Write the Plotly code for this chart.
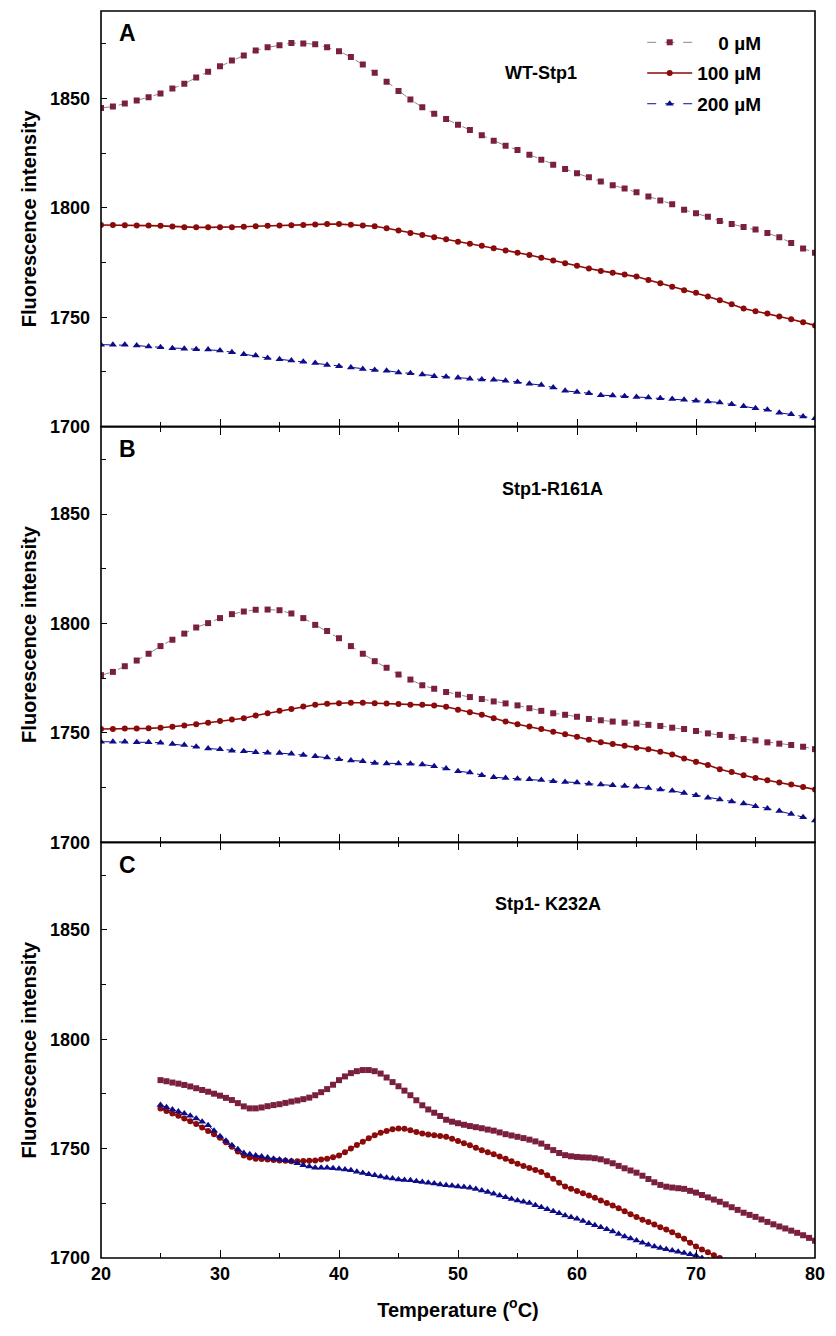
import plotly.graph_objects as go
from plotly.subplots import make_subplots

# ---------------- data ----------------
temp_ab = list(range(20, 81))

a_0uM = [1845.7, 1846.3, 1847.7, 1849.1, 1850.6, 1852.3, 1854.6, 1856.7, 1859.6, 1862.2,
         1864.7, 1867.4, 1869.7, 1872.0, 1873.4, 1874.3, 1875.4, 1875.2, 1874.8, 1873.4,
         1871.6, 1869.0, 1865.6, 1861.8, 1857.7, 1853.4, 1849.5, 1846.0, 1843.0, 1840.6,
         1838.0, 1835.6, 1833.2, 1830.7, 1828.4, 1826.5, 1824.3, 1822.0, 1819.7, 1817.8,
         1815.8, 1814.0, 1812.1, 1810.3, 1808.9, 1807.1, 1805.2, 1803.4, 1801.7, 1799.1,
         1797.6, 1795.9, 1794.0, 1792.6, 1791.3, 1790.1, 1788.5, 1786.6, 1783.9, 1781.4,
         1779.5]
a_100uM = [1792.2, 1792.2, 1792.1, 1792.0, 1791.9, 1791.8, 1791.5, 1791.2, 1791.1, 1791.1,
           1791.1, 1791.2, 1791.4, 1791.6, 1791.8, 1792.0, 1792.1, 1792.2, 1792.4, 1792.6,
           1792.6, 1792.3, 1792.0, 1791.6, 1790.7, 1789.7, 1788.5, 1787.6, 1786.6, 1785.7,
           1784.5, 1783.6, 1782.7, 1781.6, 1780.5, 1779.5, 1778.5, 1777.2, 1775.9, 1774.7,
           1773.5, 1772.3, 1771.2, 1770.4, 1769.6, 1768.6, 1767.0, 1765.5, 1764.0, 1762.4,
           1761.2, 1759.5, 1757.8, 1755.9, 1754.0, 1752.8, 1751.7, 1750.4, 1749.1, 1747.7,
           1746.3]
a_200uM = [1737.5, 1737.4, 1737.4, 1737.1, 1736.6, 1736.3, 1735.9, 1735.6, 1735.4, 1735.3,
           1734.8, 1734.0, 1733.1, 1732.5, 1731.4, 1730.8, 1730.2, 1729.7, 1729.1, 1728.2,
           1727.6, 1727.0, 1726.4, 1725.9, 1725.6, 1724.8, 1724.4, 1723.8, 1723.1, 1722.8,
           1722.4, 1721.9, 1721.6, 1721.5, 1721.0, 1720.4, 1719.6, 1719.0, 1717.9, 1716.4,
           1715.8, 1715.3, 1714.4, 1714.3, 1713.9, 1713.6, 1713.3, 1713.0, 1712.7, 1712.3,
           1711.8, 1711.5, 1711.0, 1710.3, 1709.3, 1708.4, 1707.7, 1706.4, 1705.7, 1704.7,
           1703.8]

b_0uM = [1776.4, 1777.9, 1780.5, 1783.1, 1786.2, 1789.7, 1792.6, 1795.4, 1798.2, 1800.2,
         1802.5, 1804.3, 1805.5, 1806.3, 1806.4, 1806.1, 1804.6, 1802.5, 1799.4, 1796.6,
         1793.3, 1789.7, 1786.2, 1782.8, 1779.8, 1776.7, 1774.4, 1771.8, 1770.2, 1768.7,
         1767.5, 1766.4, 1765.5, 1764.4, 1763.5, 1762.6, 1761.3, 1760.1, 1759.0, 1758.3,
         1757.4, 1756.4, 1755.8, 1755.2, 1754.7, 1754.3, 1753.7, 1753.2, 1752.4, 1751.8,
         1750.9, 1749.8, 1749.1, 1748.2, 1747.2, 1746.6, 1745.7, 1745.1, 1744.5, 1743.7,
         1742.6]
b_100uM = [1751.8, 1751.8, 1752.0, 1752.0, 1752.1, 1752.4, 1752.8, 1753.4, 1754.0, 1754.7,
           1755.5, 1756.1, 1756.7, 1758.0, 1759.0, 1760.1, 1761.0, 1762.1, 1762.9, 1763.3,
           1763.6, 1763.8, 1763.8, 1763.6, 1763.5, 1763.2, 1762.9, 1762.9, 1762.6, 1762.0,
           1760.6, 1759.5, 1758.3, 1756.7, 1755.2, 1754.0, 1752.9, 1751.8, 1750.6, 1749.4,
           1748.3, 1746.9, 1745.7, 1744.9, 1744.2, 1743.2, 1742.6, 1741.4, 1740.2, 1738.3,
           1736.8, 1735.3, 1733.4, 1732.2, 1730.7, 1729.4, 1728.4, 1727.3, 1726.4, 1725.3,
           1724.2]
b_200uM = [1746.0, 1746.0, 1746.0, 1745.8, 1745.7, 1745.5, 1744.9, 1744.5, 1743.7, 1742.9,
           1742.5, 1741.9, 1741.6, 1741.2, 1740.9, 1740.8, 1740.5, 1739.9, 1739.3, 1738.8,
           1738.0, 1737.4, 1737.1, 1736.3, 1736.0, 1736.0, 1735.9, 1735.6, 1734.8, 1733.7,
           1732.5, 1731.9, 1730.7, 1729.7, 1729.4, 1729.1, 1728.8, 1728.5, 1727.9, 1727.6,
           1727.3, 1726.8, 1726.4, 1726.1, 1725.8, 1725.4, 1724.8, 1724.2, 1723.6, 1722.5,
           1721.5, 1720.4, 1719.6, 1718.7, 1717.8, 1716.5, 1715.5, 1714.3, 1713.0, 1711.5,
           1710.0]

# panel C: readings every 0.5 degC starting at 25 degC
c_start, c_step = 25.0, 0.5
c_0uM = [1781.3, 1780.8, 1780.2, 1779.7, 1779.1, 1778.4, 1777.6, 1776.8, 1776.0, 1775.1,
         1774.2, 1773.2, 1772.2, 1770.8, 1769.3, 1768.4, 1768.4, 1768.8, 1769.4, 1769.9,
         1770.3, 1770.9, 1771.5, 1772.0, 1772.6, 1773.3, 1774.4, 1775.8, 1777.2, 1779.2,
         1781.3, 1783.0, 1784.5, 1785.4, 1785.9, 1785.9, 1785.4, 1784.3, 1782.5, 1780.4,
         1778.5, 1776.5, 1774.4, 1772.1, 1769.8, 1767.9, 1766.4, 1764.9, 1763.2, 1762.3,
         1761.6, 1760.9, 1760.3, 1759.8, 1759.3, 1758.7, 1758.2, 1757.4, 1756.6, 1756.0,
         1755.4, 1754.8, 1754.1, 1753.3, 1752.3, 1750.8, 1749.3, 1748.0, 1747.0, 1746.5,
         1746.2, 1746.0, 1745.9, 1745.6, 1745.1, 1744.2, 1743.3, 1742.1, 1741.0, 1740.0,
         1739.0, 1737.6, 1736.1, 1734.6, 1733.4, 1732.6, 1732.2, 1731.9, 1731.6, 1730.7,
         1729.9, 1728.8, 1727.7, 1726.7, 1725.7, 1724.5, 1723.2, 1722.0, 1720.7, 1719.7,
         1718.8, 1717.6, 1716.5, 1715.4, 1714.4, 1713.5, 1712.5, 1711.5, 1710.4, 1709.2,
         1707.9]
c_100uM = [1768.3, 1767.2, 1766.1, 1765.0, 1763.8, 1762.5, 1761.2, 1759.7, 1758.1, 1756.6,
           1755.0, 1752.9, 1750.8, 1748.7, 1746.9, 1745.9, 1745.4, 1745.2, 1745.0, 1744.8,
           1744.6, 1744.4, 1744.2, 1744.2, 1744.3, 1744.4, 1744.6, 1745.0, 1745.4, 1746.0,
           1746.9, 1748.3, 1750.0, 1751.6, 1753.1, 1754.7, 1756.1, 1757.2, 1758.1, 1758.8,
           1759.2, 1759.1, 1758.4, 1757.6, 1756.9, 1756.5, 1756.1, 1755.8, 1755.4, 1754.5,
           1753.5, 1752.5, 1751.5, 1750.4, 1749.2, 1748.3, 1747.4, 1746.4, 1745.4, 1744.2,
           1743.1, 1742.1, 1741.1, 1740.2, 1739.3, 1737.8, 1736.2, 1734.4, 1732.7, 1731.6,
           1730.6, 1729.6, 1728.6, 1727.5, 1726.3, 1725.1, 1724.0, 1722.7, 1721.4, 1720.0,
           1718.7, 1717.5, 1716.4, 1715.3, 1714.1, 1713.0, 1711.8, 1710.3, 1708.8, 1707.0,
           1705.2, 1703.9, 1702.6, 1701.3, 1700.0, 1698.7, 1697.4]
c_200uM = [1769.9, 1768.9, 1767.9, 1767.0, 1766.1, 1765.0, 1763.8, 1762.3, 1760.7, 1758.2,
           1755.7, 1753.6, 1751.5, 1749.7, 1748.0, 1747.4, 1746.9, 1746.4, 1745.9, 1745.4,
           1745.0, 1744.7, 1744.3, 1743.3, 1742.4, 1741.8, 1741.3, 1741.3, 1741.3, 1741.0,
           1740.8, 1740.5, 1740.1, 1739.4, 1738.8, 1738.3, 1737.8, 1737.2, 1736.7, 1736.3,
           1735.9, 1735.7, 1735.5, 1735.1, 1734.7, 1734.4, 1734.0, 1733.6, 1733.2, 1733.0,
           1732.7, 1732.4, 1732.1, 1731.5, 1730.9, 1730.2, 1729.4, 1728.6, 1727.8, 1727.0,
           1726.3, 1725.7, 1725.1, 1724.1, 1723.2, 1722.3, 1721.4, 1720.4, 1719.4, 1718.6,
           1717.9, 1716.9, 1715.9, 1715.0, 1714.1, 1713.1, 1712.1, 1711.0, 1709.8, 1708.9,
           1708.0, 1707.0, 1706.1, 1705.3, 1704.6, 1704.0, 1703.4, 1702.8, 1702.3, 1701.7,
           1701.1, 1700.0, 1699.0, 1698.0]

series_names = ["\u2007\u20070 µM", "100 µM", "200 µM"]
panel_letters = ["A", "B", "C"]
panel_titles = ["WT-Stp1", "Stp1-R161A", "Stp1- K232A"]
y_ticks = [1700, 1750, 1800, 1850]
y_minor_ticks = [1725, 1775, 1825, 1875]

# ---------------- figure ----------------
FONT = "Liberation Sans, Arial, sans-serif"
styles = [
    dict(marker=dict(symbol="square", color="#7a1f40", size=6),
         line=dict(color="#8a8a8a", width=1, dash="dash")),
    dict(marker=dict(symbol="circle", color="#8b0a0a", size=6),
         line=dict(color="#8b0a0a", width=1.6)),
    dict(marker=dict(symbol="triangle-up", color="#0d0d8c", size=7),
         line=dict(color="#0d0d8c", width=1, dash="dash")),
]

fig = make_subplots(rows=3, cols=1, shared_xaxes=True, vertical_spacing=0)

def c_temps(vals):
    return [c_start + c_step * i for i in range(len(vals))]

panels = [
    [(temp_ab, a_0uM), (temp_ab, a_100uM), (temp_ab, a_200uM)],
    [(temp_ab, b_0uM), (temp_ab, b_100uM), (temp_ab, b_200uM)],
    [(c_temps(c_0uM), c_0uM), (c_temps(c_100uM), c_100uM), (c_temps(c_200uM), c_200uM)],
]

for r, traces in enumerate(panels, start=1):
    for k, (xs, ys) in enumerate(traces):
        st = styles[k]
        fig.add_trace(go.Scatter(
            x=xs, y=ys, mode="lines+markers", name=series_names[k],
            legendgroup=f"g{k}", showlegend=(r == 1),
            marker=dict(symbol=st["marker"]["symbol"], color=st["marker"]["color"],
                        size=st["marker"]["size"], line=dict(width=0)),
            line=st["line"],
        ), row=r, col=1)

common = dict(showline=False, showgrid=False, zeroline=False)
TICKFONT = dict(family=FONT, size=18, color="black", weight="bold")
for r in range(1, 4):
    fig.update_xaxes(
        range=[20, 80], dtick=10, tick0=20, ticks="inside", ticklen=8, tickwidth=1.4,
        tickcolor="black", mirror=(False if r == 1 else "ticks"),
        minor=dict(ticks="inside", dtick=5, ticklen=5, tickwidth=1.4, tickcolor="black"),
        showticklabels=(r == 3), ticklabelstandoff=3,
        tickfont=TICKFONT, row=r, col=1, **common)
    fig.update_yaxes(
        range=[1700, 1890], tickvals=y_ticks, ticks="inside", ticklen=6, tickwidth=1.4,
        tickcolor="black", mirror=False,
        minor=dict(ticks="inside", tickvals=y_minor_ticks, ticklen=5,
                   tickwidth=1.4, tickcolor="black"),
        ticklabelstandoff=10, tickfont=TICKFONT,
        title=dict(text="Fluorescence intensity", standoff=7,
                   font=dict(family=FONT, size=20, color="black", weight="bold")),
        row=r, col=1, **common)

fig.update_xaxes(title=dict(text="Temperature (<sup>o</sup>C)", standoff=19,
                            font=dict(family=FONT, size=20, color="black", weight="bold")),
                 row=3, col=1)

yrefs = ["y domain", "y2 domain", "y3 domain"]
xrefs = ["x domain", "x2 domain", "x3 domain"]
title_x = [0.616, 0.633, 0.626]
for i in range(3):
    # panel frame
    fig.add_shape(type="rect", xref=xrefs[i], yref=yrefs[i], x0=0, x1=1, y0=0, y1=1,
                  line=dict(color="black", width=1.6), layer="above")
    fig.add_annotation(text=panel_letters[i], xref=xrefs[i], yref=yrefs[i],
                       x=0.037, y=0.946, xanchor="center", yanchor="middle",
                       showarrow=False,
                       font=dict(family=FONT, size=23, color="black", weight="bold"))
    fig.add_annotation(text=panel_titles[i], xref=xrefs[i], yref=yrefs[i],
                       x=title_x[i], y=0.851, xanchor="center", yanchor="middle",
                       showarrow=False,
                       font=dict(family=FONT, size=18, color="black", weight="bold"))

fig.update_layout(
    width=836, height=1336,
    margin=dict(l=101, r=13, t=11, b=78),
    plot_bgcolor="white", paper_bgcolor="white",
    font=dict(family=FONT, color="black"),
    legend=dict(x=0.758, y=0.990, xanchor="left", yanchor="top",
                bgcolor="rgba(0,0,0,0)", traceorder="grouped", tracegroupgap=3,
                itemwidth=45,
                font=dict(family=FONT, size=19, color="black", weight="bold")),
)

fig.write_html("out.html")
